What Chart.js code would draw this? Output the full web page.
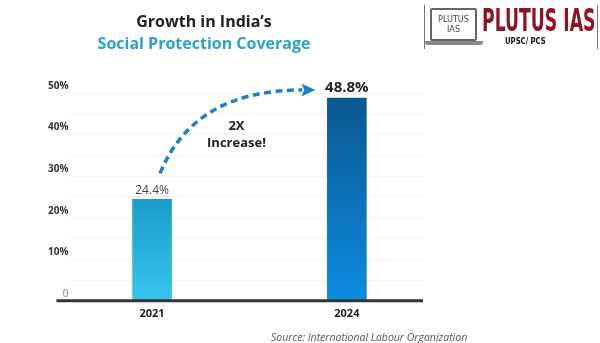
<!DOCTYPE html>
<html>
<head>
<meta charset="utf-8">
<script src="https://cdn.jsdelivr.net/npm/chart.js@4.4.1/dist/chart.umd.min.js"></script>
<style>
    html, body { margin: 0; padding: 0; background: #ffffff; }
    .wrap { position: relative; width: 600px; height: 343px; overflow: hidden; }
    #chart { position: absolute; left: 0; top: 0; }
    .title {
        position: absolute; left: 54px; width: 300px; text-align: center;
        font: bold 16px 'Open Sans', sans-serif; line-height: 20px; white-space: nowrap;
    }
    .t1 { top: 11px; color: #222222; }
    .t2 { top: 33px; color: #29a3c6; }
    .source {
        position: absolute; left: 271px; top: 330px;
        font: italic 10.5px 'Open Sans', sans-serif; color: #555;
    }
    .logo {
        position: absolute; left: 424px; top: 5px; width: 172px; height: 44px;
        border-left: 1px solid #777; border-right: 1px solid #777;
    }
    .laptop {
        position: absolute; left: 5px; top: 3px; width: 47px; height: 33px;
        border: 2px solid #666; border-radius: 2px; box-sizing: border-box;
        font: 9px 'DejaVu Sans Condensed', sans-serif; color: #444;
        text-align: center; line-height: 10px; padding-top: 4px;
    }
    .laptop-base {
        position: absolute; left: 0px; top: 36px; width: 58px; height: 4px;
        background: #888; border-radius: 0 0 3px 3px;
    }
    .brand {
        position: absolute; left: 57px; top: 0px;
        font: bold 32px 'DejaVu Sans Condensed', sans-serif; line-height: 30px; color: #8b1522;
        transform: scaleX(0.6); transform-origin: left top; white-space: nowrap;
    }
    .sub {
        position: absolute; left: 80px; top: 31px;
        font: bold 9px 'DejaVu Sans Condensed', sans-serif; color: #111; white-space: nowrap;
        transform: scaleX(0.85); transform-origin: left top;
    }
</style>
</head>
<body>
<div class="wrap">
    <canvas id="chart" width="600" height="343"></canvas>
    <div class="title t1">Growth in India’s</div>
    <div class="title t2">Social Protection Coverage</div>
    <div class="logo">
        <div class="laptop">PLUTUS<br>IAS</div>
        <div class="laptop-base"></div>
        <div class="brand">PLUTUS IAS</div>
        <div class="sub">UPSC/ PCS</div>
    </div>
    <div class="source">Source: International Labour Organization</div>
</div>
<script>
const years = ['2021', '2024'];
const coverage = [24.4, 48.8];
const valueLabels = ['24.4%', '48.8%'];
const yTickValues = [0, 10, 20, 30, 40, 50];
const yTickLabels = ['0', '10%', '20%', '30%', '40%', '50%'];
const barTopColors = ['#1b9ccb', '#0b5890'];
const barBottomColors = ['#36c5ef', '#0c8ce0'];
const annotationLines = ['2X', 'Increase!'];

const FONT = "'Open Sans', sans-serif";

const decorations = {
    id: 'decorations',
    afterDatasetsDraw(chart) {
        const ctx = chart.ctx;
        const y = chart.scales.y;
        const area = chart.chartArea;

        // baseline
        ctx.save();
        ctx.strokeStyle = '#333333';
        ctx.lineWidth = 3;
        ctx.beginPath();
        ctx.moveTo(area.left - 15, y.getPixelForValue(0));
        ctx.lineTo(area.right, y.getPixelForValue(0));
        ctx.stroke();

        // value labels
        const meta = chart.getDatasetMeta(0);
        meta.data.forEach(function (bar, i) {
            const last = i === coverage.length - 1;
            ctx.font = (last ? 'bold 15px ' : '12px ') + FONT;
            ctx.fillStyle = last ? '#222222' : '#444444';
            ctx.textAlign = 'center';
            ctx.textBaseline = 'middle';
            ctx.fillText(valueLabels[i], bar.x, bar.y - (last ? 10 : 9));
        });

        // dashed arrow between the bars
        const b1 = meta.data[0];
        const b2 = meta.data[1];
        const sx = b1.x + 8, sy = b1.y - 26;
        const tipX = b2.x - b2.width / 2 - 12, tipY = b2.y - 8;
        const ex = tipX - 13, ey = tipY;
        const cx = b1.x + 42, cy = tipY;
        ctx.strokeStyle = '#1f80c2';
        ctx.fillStyle = '#1f80c2';
        ctx.lineWidth = 3.5;
        ctx.setLineDash([7, 4.5]);
        ctx.beginPath();
        ctx.moveTo(sx, sy);
        ctx.quadraticCurveTo(cx, cy, ex, ey);
        ctx.stroke();
        ctx.setLineDash([]);
        ctx.beginPath();
        ctx.moveTo(tipX, tipY);
        ctx.lineTo(ex - 1, tipY - 6.5);
        ctx.lineTo(ex + 2, tipY);
        ctx.lineTo(ex - 1, tipY + 6.5);
        ctx.closePath();
        ctx.fill();

        // "2X Increase!" text
        ctx.font = 'bold 13px ' + FONT;
        ctx.fillStyle = '#222222';
        ctx.textAlign = 'center';
        ctx.textBaseline = 'middle';
        const mid = (b1.x + b2.x) / 2 - 13;
        ctx.fillText(annotationLines[0], mid, y.getPixelForValue(42));
        ctx.fillText(annotationLines[1], mid, y.getPixelForValue(38));
        ctx.restore();
    }
};

new Chart(document.getElementById('chart'), {
    type: 'bar',
    data: {
        datasets: [
            {
                data: coverage.map(function (v, i) { return { x: i, y: v }; }),
                barThickness: 39,
                backgroundColor: function (context) {
                    const chart = context.chart;
                    if (!chart.chartArea || context.dataIndex === undefined) {
                        return barBottomColors[0];
                    }
                    const i = context.dataIndex;
                    const y = chart.scales.y;
                    const g = chart.ctx.createLinearGradient(0, y.getPixelForValue(coverage[i]), 0, y.getPixelForValue(0));
                    g.addColorStop(0, barTopColors[i]);
                    g.addColorStop(1, barBottomColors[i]);
                    return g;
                }
            }
        ]
    },
    options: {
        responsive: false,
        animation: false,
        layout: {
            padding: { left: 45, right: 177, top: 93, bottom: 17 }
        },
        scales: {
            x: {
                type: 'linear',
                offset: false,
                bounds: 'data',
                min: -0.414,
                max: 1.391,
                afterBuildTicks: function (axis) {
                    axis.ticks = years.map(function (_, i) { return { value: i }; });
                },
                ticks: {
                    callback: function (v) { return years[v] || ''; },
                    color: '#222222',
                    font: { family: FONT, size: 11, weight: 'bold' },
                    padding: 6,
                    maxRotation: 0
                },
                grid: { display: false, drawTicks: false },
                border: { display: false }
            },
            y: {
                min: 0,
                max: 50,
                ticks: {
                    stepSize: 5,
                    callback: function (v) {
                        const k = yTickValues.indexOf(v);
                        return k >= 0 ? yTickLabels[k] : '';
                    },
                    color: function (c) { return c.tick && c.tick.value === 0 ? '#777777' : '#333333'; },
                    font: function (c) {
                        return { family: FONT, size: 10, weight: c.tick && c.tick.value === 0 ? 'normal' : 'bold' };
                    },
                    labelOffset: -7,
                    padding: 3
                },
                grid: { color: '#f0f0f0', lineWidth: 1, drawTicks: false },
                border: { display: false }
            }
        },
        plugins: {
            legend: { display: false },
            tooltip: { enabled: false }
        }
    },
    plugins: [decorations]
});
</script>
</body>
</html>
